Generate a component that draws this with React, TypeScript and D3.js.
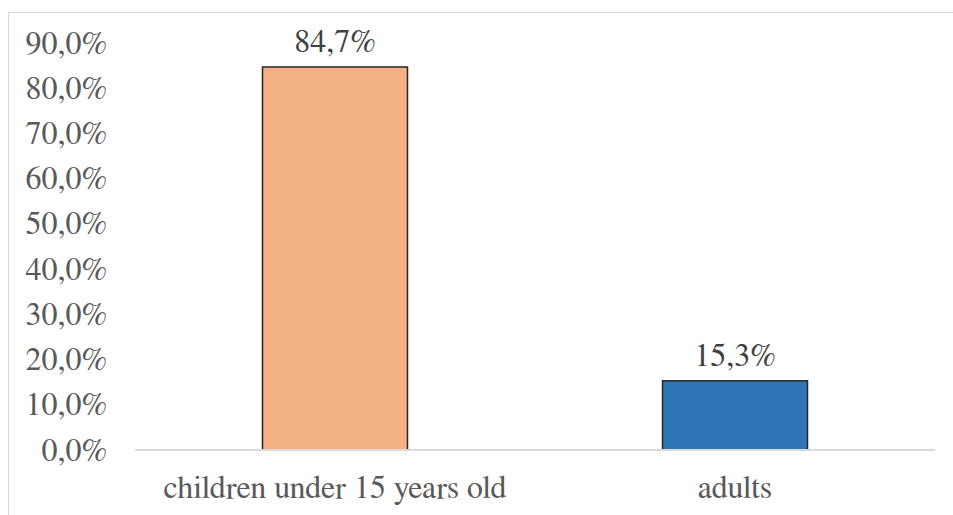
import * as React from "react";
import * as d3 from "d3";

const categories = ["children under 15 years old", "adults"];
const shares = [84.7, 15.3];
const barColors = ["#F4B183", "#2E75B6"];
const yTicks = [0, 10, 20, 30, 40, 50, 60, 70, 80, 90];

const width = 953;
const height = 515;

const fmt = (v: number) => v.toFixed(1).replace(".", ",") + "%";

export default function App() {
    const x = d3.scaleBand<string>()
        .domain(categories)
        .range([135, 935])
        .paddingInner(0.6375)
        .paddingOuter(0.31875);

    const y = d3.scaleLinear()
        .domain([0, 90])
        .range([450, 43]);

    const textStyle = { fontFamily: '"FreeSerif", "Liberation Serif"', fontSize: "32px" };

    return <svg width={width} height={height} style={{ position: "absolute", left: 0, top: 0 }}>
        <rect x={0} y={0} width={width} height={height} fill="white" />
        {/* chart frame, cut off at right and bottom */}
        <rect x={8.5} y={12.5} width={width + 10} height={height + 10} fill="none" stroke="#d9d9d9" strokeWidth={1} />

        {yTicks.map(t =>
            <text key={t} x={107} y={y(t)} dy="0.33em" textAnchor="end"
                style={textStyle} fill="#595959">{fmt(t)}</text>
        )}

        {categories.map((c, i) =>
            <rect key={c} x={x(c)} y={y(shares[i])} width={x.bandwidth()} height={y(0) - y(shares[i])}
                fill={barColors[i]} stroke="#262626" strokeWidth={1.5} />
        )}

        <line x1={135} x2={935} y1={y(0)} y2={y(0)} stroke="#d9d9d9" strokeWidth={2} />

        {categories.map((c, i) =>
            <text key={c} x={(x(c) || 0) + x.bandwidth() / 2} y={y(shares[i]) - 15} textAnchor="middle"
                style={textStyle} fill="#404040">{fmt(shares[i])}</text>
        )}

        {categories.map(c =>
            <text key={c} x={(x(c) || 0) + x.bandwidth() / 2} y={498} textAnchor="middle"
                style={textStyle} fill="#595959">{c}</text>
        )}
    </svg>
}
